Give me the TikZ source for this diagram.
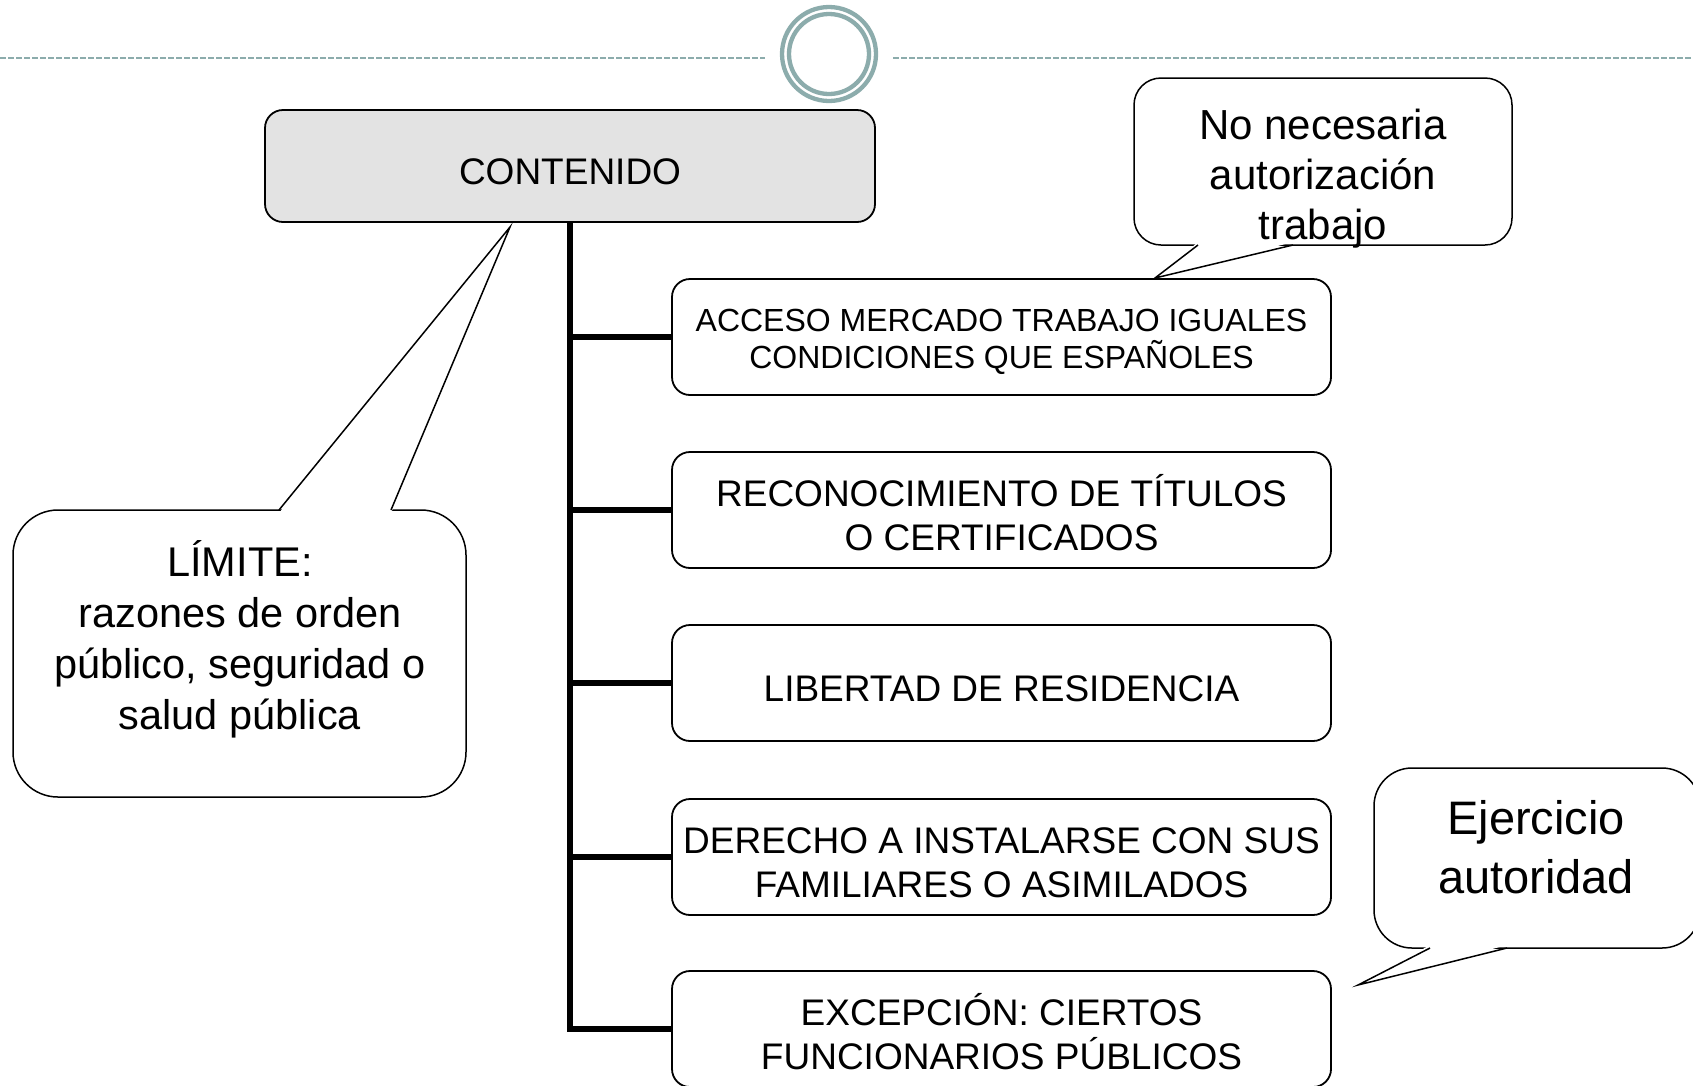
\documentclass[tikz,border=0pt]{standalone}
\usepackage{fontspec}
\setmainfont{Liberation Sans}
\usepackage{xcolor}
\definecolor{ringgray}{RGB}{140,172,172}
\definecolor{boxgray}{RGB}{227,227,227}
\newcommand{\capstrut}{\rule{0pt}{1em}}

\begin{document}
\begin{tikzpicture}[x=1pt,y=-1pt,
        main/.style = {draw=black, fill=boxgray, line width=1.8pt, rounded corners=18pt, minimum width=610pt, minimum height=112pt, font=\fontsize{37}{43}\selectfont},
        element/.style = {draw=black, fill=white, line width=1.8pt, rounded corners=18pt, minimum width=659pt, minimum height=116pt, inner sep=0pt, align=center, font=\fontsize{37}{44.5}\selectfont},
        bubble/.style = {draw=black, fill=white, line width=1.5pt},
        tail/.style = {draw=black, line width=1.5pt, line join=miter},
        ring/.style = {draw=ringgray, line width=4.3pt},
        lines/.style = {line width=6pt, line join=miter}]
        \useasboundingbox (0,0) rectangle (1693,1085);

        \draw[ringgray, line width=2pt, dash pattern=on 5.5pt off 2.5pt] (0,58) -- (765,58);
        \draw[ringgray, line width=2pt, dash pattern=on 5.5pt off 2.5pt] (893,58) -- (1693,58);
        \draw[ring, fill=white] (829,54) circle (47pt);
        \draw[ring] (829,54) circle (40pt);

        \node[main] (C) at (570,166) {\capstrut CONTENIDO};

        \node[element, font=\fontsize{32}{36.8}\selectfont] (1) at (1001.5,337) {\capstrut ACCESO MERCADO TRABAJO IGUALES\\CONDICIONES QUE ESPAÑOLES};
        \node[element] (2) at (1001.5,510) {\capstrut RECONOCIMIENTO DE TÍTULOS\\O CERTIFICADOS};
        \node[element] (3) at (1001.5,683) {\capstrut LIBERTAD DE RESIDENCIA};
        \node[element] (4) at (1001.5,857) {\capstrut DERECHO A INSTALARSE CON SUS\\FAMILIARES O ASIMILADOS};
        \node[element] (5) at (1001.5,1029) {\capstrut EXCEPCIÓN: CIERTOS\\FUNCIONARIOS PÚBLICOS};

        \draw[lines] (C.south) -- (C.south |- 5.west) -- (5.west);
        \foreach \i in {1,...,4}
            \draw[lines] (C.south |- \i.west) -- (\i.west);

        % callouts
        \node[bubble, rounded corners=27pt, minimum width=378pt, minimum height=167pt] (N) at (1323,161.5) {};
        \coordinate (Ntip) at (1155,278);
        \fill[white] (1198,242) -- (Ntip) -- (1293,242) -- cycle;
        \draw[tail] (1198,245) -- (Ntip) -- (1293,245);
        \node[align=center, font=\fontsize{42}{49.7}\selectfont] (Ntext) at (1323,178.5) {No necesaria\\autorización\\trabajo};

        \node[bubble, rounded corners=45pt, minimum width=453pt, minimum height=287pt] (L) at (239.5,653.5) {};
        \coordinate (Ltip) at (510,227);
        \fill[white] (279,513) -- (Ltip) -- (391,513) -- cycle;
        \draw[tail] (279,510) -- (Ltip) -- (391,510);
        \node[align=center, font=\fontsize{41.5}{51}\selectfont] (Ltext) at (240,639.5) {LÍMITE:\\razones de orden\\público, seguridad o\\salud pública};

        \node[bubble, rounded corners=38pt, minimum width=326pt, minimum height=180pt] (E) at (1537,858) {};
        \coordinate (Etip) at (1358,985);
        \fill[white] (1430,945) -- (Etip) -- (1507,945) -- cycle;
        \draw[tail] (1430,948) -- (Etip) -- (1507,948);
        \node[align=center, font=\fontsize{47}{59}\selectfont] (Etext) at (1536,847) {Ejercicio\\autoridad};
    \end{tikzpicture}
\end{document}
